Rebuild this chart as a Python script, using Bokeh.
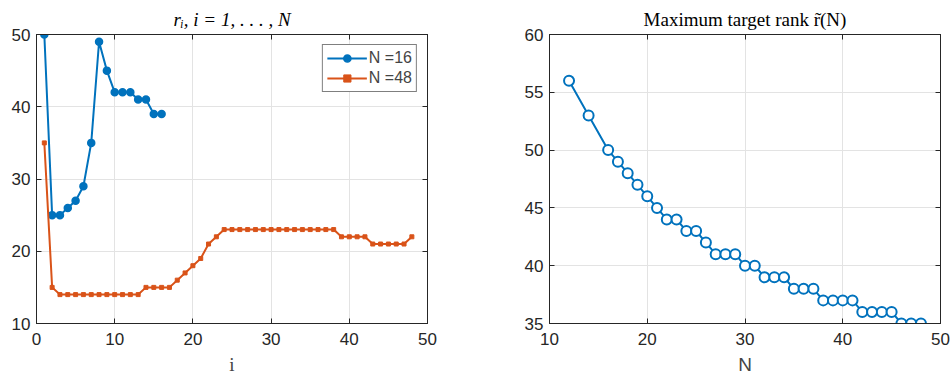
from bokeh.plotting import figure
from bokeh.layouts import row
from bokeh.models import LinearAxis, FixedTicker, Range1d
from bokeh.embed import file_html
from bokeh.resources import INLINE

# ---------------- data ----------------
i16 = list(range(1, 17))
r16 = [50, 25, 25, 26, 27, 29, 35, 49, 45, 42, 42, 42, 41, 41, 39, 39]

i48 = list(range(1, 49))
r48 = ([35, 15] + [14] * 11 + [15] * 4 + [16, 17, 18, 19, 21, 22] + [23] * 15
       + [22] * 4 + [21] * 5 + [22])

N_vals = [12, 14] + list(range(16, 49))
r_max = [56, 53, 50, 49, 48, 47, 46, 45, 44, 44, 43, 43, 42, 41, 41, 41, 40, 40,
         39, 39, 39, 38, 38, 38, 37, 37, 37, 37, 36, 36, 36, 36, 35, 35, 35]

left_xticks = [0, 10, 20, 30, 40, 50]
left_yticks = [10, 20, 30, 40, 50]
right_xticks = [10, 20, 30, 40, 50]
right_yticks = [35, 40, 45, 50, 55, 60]

BLUE = "#0072BD"
ORANGE = "#D95319"
AXC = "#262626"
GRID = "#e3e3e3"
SANS = "Liberation Sans"
SERIF = "Liberation Serif"


def style(p, xt, yt):
    xa = p.below[0]
    ya = p.left[0]
    xa.ticker = FixedTicker(ticks=xt)
    ya.ticker = FixedTicker(ticks=yt)
    for ax in (xa, ya):
        ax.major_tick_in = 5
        ax.major_tick_out = 0
        ax.minor_tick_line_color = None
        ax.axis_line_color = AXC
        ax.major_tick_line_color = AXC
        ax.major_label_text_font = SANS
        ax.major_label_text_font_size = "17px"
        ax.major_label_text_color = AXC
    xa.major_label_standoff = 9
    ya.major_label_standoff = 6
    p.xgrid.ticker = FixedTicker(ticks=xt)
    p.ygrid.ticker = FixedTicker(ticks=yt)
    p.grid.grid_line_color = GRID
    p.outline_line_color = AXC
    p.outline_line_alpha = 1.0
    for loc, t in (("above", xt), ("right", yt)):
        ax = LinearAxis(ticker=FixedTicker(ticks=t), major_tick_in=5, major_tick_out=0,
                        minor_tick_line_color=None, axis_line_color=AXC,
                        major_tick_line_color=AXC, major_label_text_font_size="0px",
                        major_label_text_color=None, major_label_standoff=0)
        p.add_layout(ax, loc)
    p.title.align = "center"
    p.title.text_font = SERIF
    p.title.text_font_size = "19px"
    p.title.text_font_style = "normal"
    p.title.text_color = "#000000"
    p.title.standoff = 9
    return xa


# ---------------- left plot ----------------
p1 = figure(width=447, height=380, output_backend="svg", toolbar_location=None,
            x_range=Range1d(0, 50), y_range=Range1d(10, 50),
            min_border_left=36, min_border_right=20, min_border_top=34, min_border_bottom=57,
            title="rᵢ, i = 1, . . . , N")
xa1 = style(p1, left_xticks, left_yticks)
p1.title.text_font_style = "italic"
xa1.axis_label = "i"
xa1.axis_label_text_font = SERIF
xa1.axis_label_text_font_style = "normal"
xa1.axis_label_text_font_size = "19px"
xa1.axis_label_standoff = 6

p1.line(i16, r16, line_color=BLUE, line_width=2, legend_label="N =16")
p1.scatter(i16, r16, marker="circle", size=7, fill_color=BLUE, line_color=BLUE,
           line_width=1.5, legend_label="N =16")
p1.line(i48, r48, line_color=ORANGE, line_width=2, legend_label="N =48")
p1.scatter(i48, r48, marker="square", size=4, fill_color=ORANGE, line_color=ORANGE,
           legend_label="N =48")

lg = p1.legend[0]
lg.location = "top_right"
lg.margin = 10
lg.border_line_color = "#000000"
lg.border_line_width = 1
lg.background_fill_alpha = 1
lg.label_text_font = SANS
lg.label_text_font_size = "16px"
lg.glyph_width = 40
lg.glyph_height = 18
lg.spacing = 2
lg.padding = 4
lg.label_standoff = 2
lg.label_height = 18

# ---------------- right plot ----------------
p2 = figure(width=505, height=380, output_backend="svg", toolbar_location=None,
            x_range=Range1d(10, 50), y_range=Range1d(35, 60),
            min_border_left=102, min_border_right=12, min_border_top=34, min_border_bottom=57,
            title="Maximum target rank r̃(N)")
xa2 = style(p2, right_xticks, right_yticks)
xa2.axis_label = "N"
xa2.axis_label_text_font = SANS
xa2.axis_label_text_font_style = "normal"
xa2.axis_label_text_font_size = "19px"
xa2.axis_label_standoff = 6

p2.line(N_vals, r_max, line_color=BLUE, line_width=2)
p2.scatter(N_vals, r_max, marker="circle", size=10, fill_color="white", line_color=BLUE,
           line_width=2)

layout = row(p1, p2)
open("out.html", "w").write(file_html(layout, INLINE))
